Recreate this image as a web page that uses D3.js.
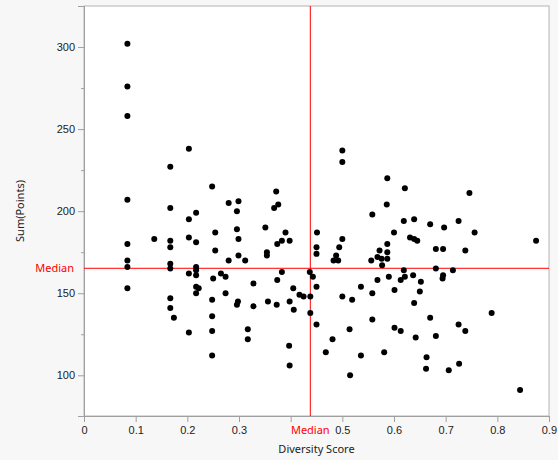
<!DOCTYPE html>
<html>
<head>
<meta charset="utf-8">
<script src="https://cdn.jsdelivr.net/npm/d3@7"></script>
<style>
  body { margin: 0; background: #f7f7f7; }
  svg { display: block; font-family: "Segoe UI", "Noto Sans", sans-serif; }
  .axis text { font-size: 11px; fill: #222; }
  .axis path, .axis line { stroke: #a0a0a0; }
</style>
</head>
<body>
<div id="chart"></div>
<script>
// diversity score of each entry
var diversity = [
  0.084, 0.084, 0.084, 0.084, 0.084, 0.084, 0.084, 0.084, 0.136, 0.167,
  0.167, 0.167, 0.167, 0.167, 0.167, 0.167, 0.167, 0.174, 0.203, 0.203,
  0.203, 0.203, 0.203, 0.217, 0.217, 0.217, 0.217, 0.217, 0.217, 0.222,
  0.217, 0.248, 0.248, 0.248, 0.248, 0.248, 0.250, 0.254, 0.254, 0.265,
  0.274, 0.274, 0.280, 0.280, 0.299, 0.296, 0.296, 0.299, 0.299, 0.298,
  0.296, 0.312, 0.317, 0.317, 0.328, 0.328, 0.351, 0.354, 0.354, 0.356,
  0.372, 0.376, 0.368, 0.374, 0.374, 0.373, 0.383, 0.383, 0.390, 0.398,
  0.398, 0.397, 0.398, 0.405, 0.406, 0.417, 0.425, 0.438, 0.438, 0.437,
  0.443, 0.450, 0.451, 0.450, 0.450, 0.450, 0.468, 0.481, 0.483, 0.488,
  0.492, 0.494, 0.500, 0.500, 0.500, 0.500, 0.514, 0.515, 0.519, 0.536,
  0.536, 0.556, 0.558, 0.558, 0.558, 0.568, 0.568, 0.572, 0.576, 0.577,
  0.581, 0.587, 0.586, 0.587, 0.587, 0.587, 0.590, 0.600, 0.601, 0.601,
  0.613, 0.613, 0.621, 0.619, 0.619, 0.621, 0.631, 0.639, 0.639, 0.637,
  0.639, 0.642, 0.645, 0.650, 0.652, 0.663, 0.662, 0.670, 0.670, 0.681,
  0.681, 0.681, 0.697, 0.695, 0.695, 0.694, 0.706, 0.714, 0.725, 0.725,
  0.726, 0.738, 0.738, 0.746, 0.756, 0.789, 0.844, 0.875
];
// sum of points of each entry
var points = [
  302, 276, 258, 207, 180, 170, 166, 153, 183, 227,
  202, 182, 178, 168, 165, 147, 141, 135, 238, 195,
  184, 162, 126, 199, 181, 166, 164, 161, 154, 153,
  150, 215, 146, 136, 127, 112, 159, 187, 176, 162,
  160, 150, 205, 170, 206, 200, 189, 183, 173, 145,
  143, 170, 128, 122, 156, 142, 190, 175, 173, 145,
  212, 204, 202, 180, 158, 143, 182, 163, 187, 182,
  145, 118, 106, 153, 140, 149, 148, 148, 138, 163,
  160, 154, 187, 178, 174, 131, 114, 122, 170, 173,
  170, 178, 237, 230, 183, 148, 128, 100, 146, 154,
  112, 170, 198, 150, 134, 172, 158, 176, 171, 167,
  114, 220, 204, 180, 175, 171, 160, 187, 152, 129,
  158, 127, 214, 194, 164, 160, 184, 195, 183, 161,
  144, 123, 182, 151, 157, 111, 104, 192, 135, 177,
  165, 124, 190, 177, 161, 159, 103, 164, 194, 131,
  107, 176, 127, 211, 187, 138, 91, 182
];
var medianX = 0.438;
var medianY = 165.2;
var xTicks = [0, 0.1, 0.2, 0.3, 0.4, 0.5, 0.6, 0.7, 0.8, 0.9];
var yTicks = [100, 150, 200, 250, 300];
var yMinorTicks = [125, 175, 225, 275];

var W = 558, H = 460,
    margin = { top: 6, right: 9, bottom: 44, left: 84 };
var width = W - margin.left - margin.right,
    height = H - margin.top - margin.bottom;

var svg = d3.select("#chart").append("svg")
    .attr("width", W)
    .attr("height", H);

var g = svg.append("g")
    .attr("transform", "translate(" + margin.left + "," + margin.top + ")");

var x = d3.scaleLinear().domain([0, 0.9]).range([0, width]);
var y = d3.scaleLinear().domain([75.2, 325]).range([height, 0]);

// plot background + frame
g.append("rect")
    .attr("width", width)
    .attr("height", height)
    .attr("fill", "#fff")
    .attr("stroke", "#b4b4b4");

// x axis
var xAxis = g.append("g")
    .attr("class", "axis")
    .attr("transform", "translate(0," + height + ")")
    .call(d3.axisBottom(x).tickValues(xTicks).tickSize(6).tickPadding(4)
        .tickFormat(function(d) {
            if (Math.abs(d - medianX) < 0.06) return "";
            return d === 0 ? "0" : d3.format(".1f")(d);
        }));

// y axis, major and minor ticks
g.append("g")
    .attr("class", "axis")
    .call(d3.axisLeft(y).tickValues(yTicks).tickSize(6).tickPadding(3));
g.append("g")
    .attr("class", "axis")
    .call(d3.axisLeft(y).tickValues(yMinorTicks).tickSize(3).tickFormat(""))
    .select(".domain").remove();

// median lines
g.append("line")
    .attr("x1", x(medianX)).attr("x2", x(medianX))
    .attr("y1", 0).attr("y2", height)
    .attr("stroke", "#ff0000");
g.append("line")
    .attr("x1", 0).attr("x2", width)
    .attr("y1", y(medianY)).attr("y2", y(medianY))
    .attr("stroke", "#ff0000");

g.append("text")
    .attr("x", -10)
    .attr("y", y(medianY))
    .attr("dy", "0.32em")
    .attr("text-anchor", "end")
    .attr("fill", "#ff0000")
    .style("font-size", "11px")
    .text("Median");
g.append("text")
    .attr("x", x(medianX))
    .attr("y", height + 10)
    .attr("dy", "0.71em")
    .attr("text-anchor", "middle")
    .attr("fill", "#ff0000")
    .style("font-size", "11px")
    .text("Median");

// points
g.append("g")
    .selectAll("circle")
    .data(diversity)
    .enter().append("circle")
    .attr("cx", function(d) { return x(d); })
    .attr("cy", function(d, i) { return y(points[i]); })
    .attr("r", 3)
    .attr("fill", "#000");

// axis titles
svg.append("text")
    .attr("x", margin.left + width / 2)
    .attr("y", H - 7)
    .attr("text-anchor", "middle")
    .attr("fill", "#222")
    .style("font-size", "11px")
    .text("Diversity Score");
svg.append("text")
    .attr("transform", "translate(24," + (margin.top + height / 2) + ") rotate(-90)")
    .attr("text-anchor", "middle")
    .attr("fill", "#222")
    .style("font-size", "11px")
    .text("Sum(Points)");
</script>
</body>
</html>
